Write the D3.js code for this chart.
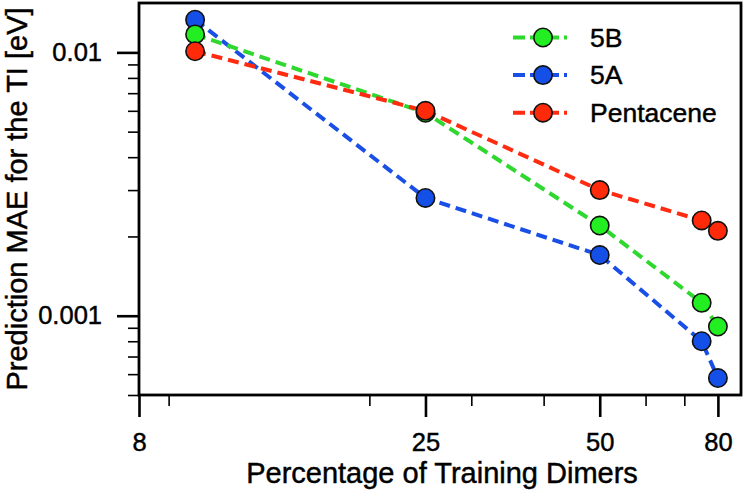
<!DOCTYPE html>
<html>
<head>
<meta charset="utf-8">
<script src="https://cdn.jsdelivr.net/npm/d3@7"></script>
<style>
  html, body { margin: 0; padding: 0; background: #fff; }
  svg { display: block; font-family: "Liberation Sans", Arial, sans-serif; }
  text { stroke: #000; stroke-width: 0.45px; }
</style>
</head>
<body>
<svg id="chart" width="747" height="493"></svg>
<script>
// ---- data ----
const percentages = [10, 25, 50, 75, 80];
const series5B = [0.0117, 0.0059, 0.0022, 0.00112, 0.00091];
const series5A = [0.0133, 0.0028, 0.0017, 0.00080, 0.00058];
const seriesPentacene = [0.0101, 0.0060, 0.0030, 0.0023, 0.0021];
const seriesNames = ["5B", "5A", "Pentacene"];
const xMajorTicks = [8, 25, 50, 80];
const xMinorTicks = [9, 20, 30, 40, 60, 70];
const yMajorTicks = [0.001, 0.01];
const yMinorTicks = [0.0005, 0.0006, 0.0007, 0.0008, 0.0009, 0.002, 0.003, 0.004, 0.005, 0.006, 0.007, 0.008, 0.009];
const yTickLabels = ["0.001", "0.01"];

const colors = {
  "5B": { line: "#2fd82f", fill: "#22ee22" },
  "5A": { line: "#1a4fe6", fill: "#1450e8" },
  "Pentacene": { line: "#ff2b10", fill: "#ff2a0a" }
};

const series = [
  { name: "5A", values: series5A },
  { name: "5B", values: series5B },
  { name: "Pentacene", values: seriesPentacene }
];

const svg = d3.select("#chart");
const L = 139, R = 741, T = 3, B = 395;

const x = d3.scaleLog().domain([8, 87.7]).range([L, R]);
const y = d3.scaleLog().domain([0.0005, 0.0154]).range([B, T]);

// axes ticks
const gx = svg.append("g").attr("transform", `translate(0,${B})`);
gx.call(d3.axisBottom(x).tickValues(xMinorTicks).tickSize(11).tickFormat(""))
  .call(g => g.select(".domain").remove())
  .call(g => g.selectAll("line").attr("stroke", "#000").attr("stroke-width", 1.6));
const gx2 = svg.append("g").attr("transform", `translate(0,${B})`);
gx2.call(d3.axisBottom(x).tickValues(xMajorTicks).tickSize(22).tickPadding(16).tickFormat(d3.format("d")))
  .call(g => g.select(".domain").remove())
  .call(g => g.selectAll("line").attr("stroke", "#000").attr("stroke-width", 2.6))
  .call(g => g.selectAll("text").attr("font-size", 25.5).attr("fill", "#000")
      .attr("font-family", "Liberation Sans, Arial, sans-serif"));

const gy = svg.append("g").attr("transform", `translate(${L},0)`);
gy.call(d3.axisLeft(y).tickValues(yMinorTicks).tickSize(11).tickFormat(""))
  .call(g => g.select(".domain").remove())
  .call(g => g.selectAll("line").attr("stroke", "#000").attr("stroke-width", 1.6));
const gy2 = svg.append("g").attr("transform", `translate(${L},0)`);
gy2.call(d3.axisLeft(y).tickValues(yMajorTicks).tickSize(22).tickPadding(15)
      .tickFormat((d, i) => yTickLabels[i]))
  .call(g => g.select(".domain").remove())
  .call(g => g.selectAll("line").attr("stroke", "#000").attr("stroke-width", 2.6))
  .call(g => g.selectAll("text").attr("font-size", 25.5).attr("fill", "#000")
      .attr("font-family", "Liberation Sans, Arial, sans-serif"));

// frame
svg.append("rect").attr("x", L).attr("y", T).attr("width", R - L).attr("height", B - T)
  .attr("fill", "none").attr("stroke", "#000").attr("stroke-width", 2.8);

// lines
const line = d3.line().x(d => x(d[0])).y(d => y(d[1]));
series.forEach(s => {
  svg.append("path")
    .datum(percentages.map((p, i) => [p, s.values[i]]))
    .attr("d", line)
    .attr("fill", "none")
    .attr("stroke", colors[s.name].line)
    .attr("stroke-width", 4)
    .attr("stroke-dasharray", "11,6");
});
// markers
series.forEach(s => {
  svg.append("g").selectAll("circle")
    .data(percentages.map((p, i) => [p, s.values[i]]))
    .join("circle")
    .attr("cx", d => x(d[0]))
    .attr("cy", d => y(d[1]))
    .attr("r", 9.2)
    .attr("fill", colors[s.name].fill)
    .attr("stroke", "#111")
    .attr("stroke-width", 1.6);
});

// legend
const legend = svg.append("g");
seriesNames.forEach((name, i) => {
  const cy = 37.5 + i * 37.6;
  legend.append("line").attr("x1", 513).attr("x2", 567).attr("y1", cy).attr("y2", cy)
    .attr("stroke", colors[name].line).attr("stroke-width", 4)
    .attr("stroke-dasharray", "12,5");
  legend.append("circle").attr("cx", 543).attr("cy", cy).attr("r", 9.2)
    .attr("fill", colors[name].fill).attr("stroke", "#111").attr("stroke-width", 1.6);
  legend.append("text").attr("x", 590).attr("y", cy + 9.3)
    .attr("font-size", 26.5).attr("fill", "#000").text(name);
});

// axis titles
svg.append("text").attr("x", 442).attr("y", 483)
  .attr("text-anchor", "middle").attr("font-size", 29).attr("fill", "#000")
  .text("Percentage of Training Dimers");
svg.append("text")
  .attr("transform", "translate(26.5,199) rotate(-90)")
  .attr("text-anchor", "middle").attr("font-size", 29).attr("fill", "#000")
  .text("Prediction MAE for the TI [eV]");
</script>
</body>
</html>
